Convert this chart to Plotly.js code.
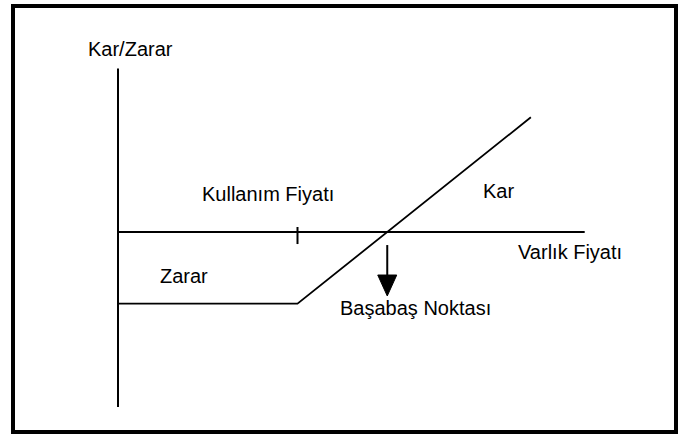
<!DOCTYPE html>
<html>
<head>
<meta charset="utf-8">
<script src="https://cdn.plot.ly/plotly-3.0.1.min.js"></script>
<style>
html,body{margin:0;padding:0;background:#fff;}
#chart{width:682px;height:435px;}
</style>
</head>
<body>
<div id="chart"></div>
<script>
// ---- data (conceptual units: asset price vs profit/loss of a long call) ----
var strikePrice = 100;          // Kullanım Fiyatı
var premium = 50;               // option premium (max loss)
var breakEven = strikePrice + premium; // Başabaş Noktası
var payoffX = [0, strikePrice, 230];
var payoffY = [-premium, -premium, 230 - strikePrice - premium];
var axisXEnd = 260;             // length of horizontal (price) axis
var axisYTop = 114;             // top of vertical (P/L) axis
var axisYBottom = -122;         // bottom of vertical axis
var labels = ["Kar/Zarar", "Kullanım Fiyatı", "Kar", "Varlık Fiyatı", "Zarar", "Başabaş Noktası"];
var labelX = [6.7, 83.6, 211.7, 251.8, 36.8, 165.5];
var labelY = [127.6, 26.5, 28.6, -13.9, -30.7, -53.0];

// ---- geometry/style ----
var sx = 1.795, sy = 1.434, ox = 118, oy = 232, W = 682, H = 435;
var xRange = [-ox / sx, (W - ox) / sx];
var yRange = [-(H - oy) / sy, oy / sy];
var tickHalfUp = 3.5, tickHalfDown = -8.4;
var arrowTopY = -9.1, arrowTipY = -44.6, headLen = 14.6, headHalfW = 5.3;
var font = {family: "Liberation Sans, Arial, sans-serif", size: 20, color: "#000"};

var traces = [
  {x: [0, 0], y: [axisYTop, axisYBottom], mode: "lines", line: {color: "#000", width: 2}},
  {x: [0, axisXEnd], y: [0, 0], mode: "lines", line: {color: "#000", width: 2}},
  {x: [strikePrice, strikePrice], y: [tickHalfUp, tickHalfDown], mode: "lines", line: {color: "#000", width: 2}},
  {x: payoffX, y: payoffY, mode: "lines", line: {color: "#000", width: 1.8}},
  {x: [breakEven, breakEven], y: [arrowTopY, arrowTipY + headLen], mode: "lines", line: {color: "#000", width: 2}},
  {x: [breakEven - headHalfW, breakEven + headHalfW, breakEven, breakEven - headHalfW],
   y: [arrowTipY + headLen, arrowTipY + headLen, arrowTipY, arrowTipY + headLen],
   mode: "lines", fill: "toself", fillcolor: "#000", line: {color: "#000", width: 1}}
];

var annotations = labels.map(function (t, i) {
  return {text: t, x: labelX[i], y: labelY[i], xref: "x", yref: "y", showarrow: false,
          xanchor: "center", yanchor: "middle", font: font};
});

var layout = {
  width: W, height: H,
  margin: {l: 0, r: 0, t: 0, b: 0, pad: 0},
  paper_bgcolor: "#fff", plot_bgcolor: "#fff",
  showlegend: false,
  xaxis: {range: xRange, visible: false, showgrid: false, zeroline: false, fixedrange: true},
  yaxis: {range: yRange, visible: false, showgrid: false, zeroline: false, fixedrange: true},
  annotations: annotations,
  shapes: [{type: "rect", xref: "paper", yref: "paper",
            x0: 13 / W, x1: 676 / W, y0: 1 - 6 / H, y1: 1 - 432 / H,
            line: {color: "#000", width: 4}, fillcolor: "rgba(0,0,0,0)"}]
};

Plotly.newPlot("chart", traces, layout, {staticPlot: true, displayModeBar: false});
</script>
</body>
</html>
